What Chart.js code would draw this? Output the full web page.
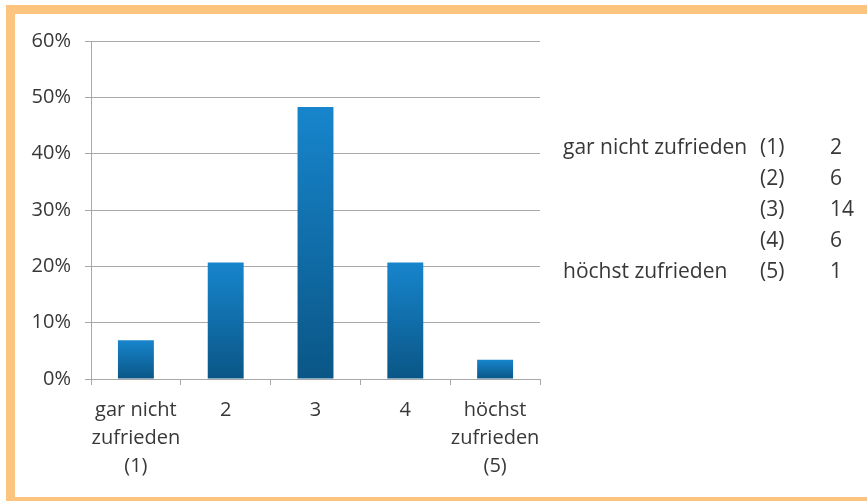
<!DOCTYPE html>
<html lang="de">
<head>
    <meta charset="UTF-8">
    <title>Zufriedenheit</title>
    <script src="https://cdn.jsdelivr.net/npm/chart.js"></script>
    <style>
        body { margin: 0; background: #fff; }
        #wrap { position: relative; width: 867px; height: 501px; overflow: hidden; background: #fff; }
        #frame { position: absolute; left: 6px; top: 5px; width: 880px; height: 483px; border: 9px solid #fdc47f; border-right: none; }
        #myChart { position: absolute; left: 0; top: 0; }
        .tbl { position: absolute; font-family: 'Open Sans', sans-serif; font-size: 21px; color: #383838; line-height: 31px; white-space: nowrap; }
    </style>
</head>
<body>
<div id="wrap">
    <div id="frame"></div>
    <canvas id="myChart" width="867" height="501"></canvas>
    <div class="tbl" id="colName" style="left:563px; top:131px;"></div>
    <div class="tbl" id="colCode" style="left:760px; top:131px;"></div>
    <div class="tbl" id="colCount" style="left:830px; top:131px;"></div>
</div>
<script>
    // categories and values
    var categories = [['gar nicht', 'zufrieden', '(1)'], '2', '3', '4', ['höchst', 'zufrieden', '(5)']];
    var percentages = [6.9, 20.7, 48.3, 20.7, 3.4];
    var yTicks = [0, 10, 20, 30, 40, 50, 60];

    // right hand table
    var tableNames = ['gar nicht zufrieden', '', '', '', 'höchst zufrieden'];
    var tableCodes = ['(1)', '(2)', '(3)', '(4)', '(5)'];
    var tableCounts = [2, 6, 14, 6, 1];

    document.getElementById('colName').innerHTML = tableNames.map(function(t) { return t || '&nbsp;'; }).join('<br>');
    document.getElementById('colCode').innerHTML = tableCodes.join('<br>');
    document.getElementById('colCount').innerHTML = tableCounts.join('<br>');

    var textColor = '#383838';
    var gridColor = '#a8a8a8';

    function barGradient(context) {
        var chart = context.chart;
        if (!chart.chartArea || context.parsed === undefined) return '#0d6ea8';
        var ys = chart.scales.y;
        var top = ys.getPixelForValue(context.parsed.y);
        var bottom = ys.getPixelForValue(0);
        var g = chart.ctx.createLinearGradient(0, top, 0, bottom);
        g.addColorStop(0, '#1785cc');
        g.addColorStop(1, '#0a5686');
        return g;
    }

    var ctx = document.getElementById('myChart').getContext('2d');
    var myChart = new Chart(ctx, {
        type: 'bar',
        data: {
            labels: categories,
            datasets: [{
                data: percentages,
                backgroundColor: barGradient,
                borderWidth: 0,
                categoryPercentage: 0.4,
                barPercentage: 1
            }]
        },
        options: {
            responsive: false,
            animation: false,
            layout: { padding: { left: 14, right: 327, top: 41, bottom: 0 } },
            plugins: { legend: { display: false }, tooltip: { enabled: false } },
            scales: {
                x: {
                    offset: true,
                    afterFit: function(scale) { scale.height = 122; },
                    grid: { offset: true, drawOnChartArea: false, drawTicks: true, tickLength: 6, color: gridColor },
                    border: { color: gridColor },
                    ticks: {
                        color: textColor,
                        padding: 11,
                        maxRotation: 0,
                        autoSkip: false,
                        font: { family: 'Open Sans', size: 20, lineHeight: 1.4 }
                    }
                },
                y: {
                    min: 0,
                    max: 60,
                    afterFit: function(scale) { scale.width = 77; },
                    afterBuildTicks: function(scale) {
                        scale.ticks = yTicks.map(function(v) { return { value: v }; });
                    },
                    grid: { color: gridColor, tickLength: 6 },
                    border: { color: gridColor },
                    ticks: {
                        color: textColor,
                        padding: 14,
                        font: { family: 'Open Sans', size: 20 },
                        callback: function(v) { return v + '%'; }
                    }
                }
            }
        }
    });
</script>
</body>
</html>
